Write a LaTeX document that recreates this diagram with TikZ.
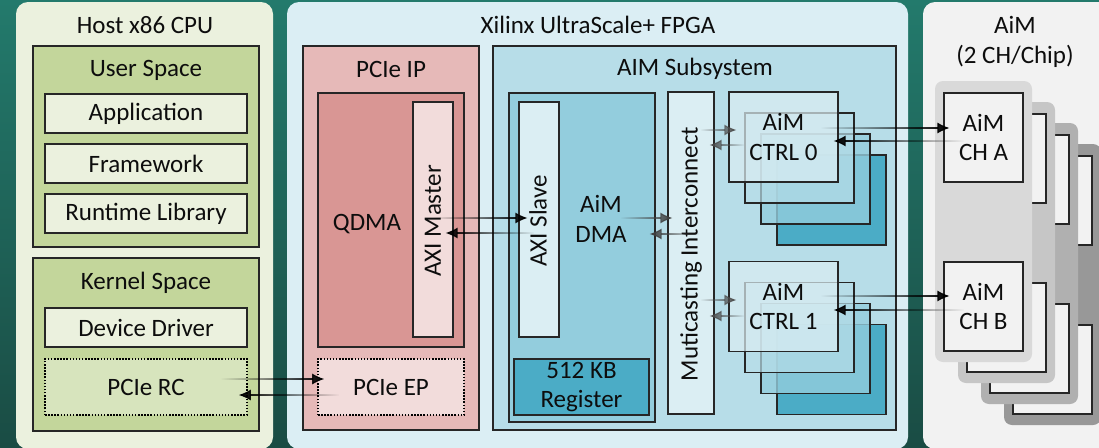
\documentclass[tikz,border=0pt]{standalone}
\usepackage{fontspec}
\setmainfont{Carlito}
\usetikzlibrary{arrows.meta, calc, fadings}

\definecolor{edge}{HTML}{262626}
\definecolor{ink}{HTML}{0D0D0D}
\definecolor{bgtop}{HTML}{237A6C}
\definecolor{bgbot}{HTML}{1A4C44}
\definecolor{hostbg}{HTML}{EBF1DE}
\definecolor{usergreen}{HTML}{C3D69B}
\definecolor{rcgreen}{HTML}{D7E4BD}
\definecolor{fpgabg}{HTML}{DBEEF4}
\definecolor{ipred}{HTML}{E6B9B8}
\definecolor{qdmared}{HTML}{D99694}
\definecolor{pinklight}{HTML}{F2DCDB}
\definecolor{subsys}{HTML}{B7DDE8}
\definecolor{dmablue}{HTML}{93CDDD}
\definecolor{paleblue}{HTML}{DBEEF3}
\definecolor{regblue}{HTML}{4BACC6}
\definecolor{aimbg}{HTML}{F2F2F2}
\definecolor{halo0}{HTML}{D9D9D9}
\definecolor{halo1}{HTML}{C6C6C6}
\definecolor{halo2}{HTML}{B0B0B0}
\definecolor{halo3}{HTML}{989898}

\tikzfading[name=fromleft, left color=transparent!100, middle color=transparent!0, right color=transparent!0]
\tikzfading[name=fromright, left color=transparent!0, middle color=transparent!0, right color=transparent!100]

\tikzset{every picture/.style={x=1pt, y=-1pt},
  every node/.style={font=\fontsize{25}{29.5}\selectfont, text=ink, align=center, inner sep=0pt},
  panel/.style={rounded corners=12pt},
  box/.style={draw=edge, line width=1.3pt},
  dotbox/.style={draw=black, line width=1.6pt, dash pattern=on 1.5pt off 1.6pt},
  link/.style={line width=1.1pt, -{Latex[length=12pt,width=11pt]}}}

\begin{document}
\begin{tikzpicture}
            \clip (0,0) rectangle (1099,447);
            \shade[top color=bgtop, bottom color=bgbot] (0,0) rectangle (1099,447);

            % panels
            \fill[panel, hostbg] (16,2) rectangle (273,449);
            \fill[panel, fpgabg] (287,2) rectangle (908,449);
            \fill[panel, aimbg] (923,2) rectangle (1115,449);

            % host side
            \node (host) at (145,25) {Host x86 CPU};
            \node[box, fill=usergreen, minimum width=226, minimum height=201] (user) at (146,146.5) {};
            \node (usertitle) at (146,70) {User Space};
            \foreach \name/\txt/\y in {app/Application/113.5, fw/Framework/163.5, rt/Runtime Library/213.5}
              \node[box, fill=hostbg, minimum width=202, minimum height=39] (\name) at (146,\y) {\txt};
            \node[box, fill=usergreen, minimum width=226, minimum height=173] (kernel) at (146,344.5) {};
            \node (kerneltitle) at (146,283) {Kernel Space};
            \node[box, fill=hostbg, minimum width=202, minimum height=39] (drv) at (146,327.5) {Device Driver};
            \node[dotbox, fill=rcgreen, minimum width=202, minimum height=56] (rc) at (146,387) {PCIe RC};

            % fpga
            \node (fpga) at (598,25) {Xilinx UltraScale+ FPGA};
            \node[box, fill=ipred, minimum width=176, minimum height=384] (ip) at (391,238) {};
            \node (iptitle) at (391,69) {PCIe IP};
            \node[box, fill=qdmared, minimum width=146, minimum height=254] (qdma) at (391,220) {};
            \node (qdmatxt) at (367,224) {QDMA};
            \node[box, fill=pinklight, minimum width=40, minimum height=235] (master) at (433,219.5) {};
            \node[rotate=90] (mastertxt) at (433,221) {AXI Master};
            \node[dotbox, fill=pinklight, minimum width=146, minimum height=56] (ep) at (391,387) {PCIe EP};

            \node[box, fill=subsys, minimum width=403, minimum height=384] (sub) at (694.5,238) {};
            \node (subtitle) at (695,69) {AIM Subsystem};
            \node[box, fill=dmablue, minimum width=146, minimum height=329] (dma) at (582,257.5) {};
            \node (dmatxt) at (601,219) {AiM\\DMA};
            \node[box, fill=paleblue, minimum width=40, minimum height=235] (slave) at (539,219.5) {};
            \node[rotate=90] (slavetxt) at (538,221) {AXI Slave};
            \node[box, fill=regblue, minimum width=135, minimum height=56] (reg) at (581.5,387) {512 KB\\Register};
            \node[box, fill=paleblue, minimum width=46, minimum height=322] (ic) at (691,253) {};
            \node[rotate=90] (ictxt) at (691,254) {Muticasting Interconnect};

            \foreach \k/\col/\op in {3/regblue/1, 2/dmablue/0.8, 1/subsys/0.7} {
              \node[box, fill=\col, fill opacity=\op, minimum width=109, minimum height=90] (ctrlA\k) at ({783.5+16*\k},{137+21*\k}) {};
              \node[box, fill=\col, fill opacity=\op, minimum width=109, minimum height=90] (ctrlB\k) at ({783.5+16*\k},{306.5+21*\k}) {};
            }
            \node[box, fill=paleblue, fill opacity=0.7, text opacity=1, minimum width=109, minimum height=90] (c0) at (783.5,137) {AiM\\CTRL 0};
            \node[box, fill=paleblue, fill opacity=0.7, text opacity=1, minimum width=109, minimum height=90] (c1) at (783.5,306.5) {AiM\\CTRL 1};

            % aim chips
            \node (aimtitle) at (1015,42) {AiM\\(2 CH/Chip)};
            \foreach \k/\col in {3/halo3, 2/halo2, 1/halo1} {
              \fill[\col, rounded corners=8pt] ({935+23*\k},{81+21*\k}) rectangle ({1032+23*\k},{362+21*\k});
              \node[box, fill=aimbg, minimum width=79, minimum height=89] (chA\k) at ({983.5+23*\k},{137.5+21*\k}) {};
              \node[box, fill=aimbg, minimum width=79, minimum height=89] (chB\k) at ({983.5+23*\k},{306.5+21*\k}) {};
            }
            \fill[halo0, rounded corners=8pt] (935,81) rectangle (1032,362);
            \node[box, fill=aimbg, minimum width=79, minimum height=89] (cha) at (983.5,137.5) {AiM\\CH A};
            \node[box, fill=aimbg, minimum width=79, minimum height=89] (chb) at (983.5,306.5) {AiM\\CH B};

            % links
            \coordinate (p1s) at ($(rc.east)+(-27,-8)$);
            \coordinate (p1e) at ($(ep.west)+(7,-8)$);
            \coordinate (p2s) at ($(ep.west)+(22,8)$);
            \coordinate (p2e) at ($(rc.east)+(-9,8)$);
            \coordinate (x1s) at ($(master.east)+(-20,-1.5)$);
            \coordinate (x1e) at ($(slave.west)+(9,-1.5)$);
            \coordinate (x2s) at ($(slave.west)+(16,13.5)$);
            \coordinate (x2e) at ($(master.east)+(-8,13.5)$);
            \coordinate (d1s) at ($(dma.east)+(-35,-39.5)$);
            \coordinate (d1e) at ($(ic.west)+(5,-35)$);
            \coordinate (d2s) at ($(ic.west)+(32,-19)$);
            \coordinate (d2e) at ($(dma.east)+(-6,-23.5)$);
            \coordinate (i1s) at ($(ic.east)+(-14,-123)$);
            \coordinate (i1e) at ($(c0.west)+(8,-7)$);
            \coordinate (i2s) at ($(c0.west)+(16,8)$);
            \coordinate (i2e) at ($(ic.east)+(-5,-108)$);
            \coordinate (i3s) at ($(ic.east)+(-14,47)$);
            \coordinate (i3e) at ($(c1.west)+(8,-6.5)$);
            \coordinate (i4s) at ($(c1.west)+(16,9.5)$);
            \coordinate (i4e) at ($(ic.east)+(-5,63)$);
            \coordinate (m1s) at ($(c0.east)+(-18,-9)$);
            \coordinate (m1e) at ($(cha.west)+(6,-9.5)$);
            \coordinate (m2s) at ($(cha.west)+(21,3.5)$);
            \coordinate (m2e) at ($(c0.east)+(-5,4)$);
            \coordinate (m3s) at ($(c1.east)+(-18,-10.5)$);
            \coordinate (m3e) at ($(chb.west)+(6,-10.5)$);
            \coordinate (m4s) at ($(chb.west)+(21,3.5)$);
            \coordinate (m4e) at ($(c1.east)+(-5,3.5)$);

            \foreach \s/\e/\f/\c in {p1s/p1e/fromleft/black, p2s/p2e/fromright/black, x1s/x1e/fromleft/black, x2s/x2e/fromright/black,
                d1s/d1e/fromleft/black!75, d2s/d2e/fromright/black!75, i1s/i1e/fromleft/black!70, i2s/i2e/fromright/black!70,
                i3s/i3e/fromleft/black!70, i4s/i4e/fromright/black!70, m1s/m1e/fromleft/black, m2s/m2e/fromright/black,
                m3s/m3e/fromleft/black, m4s/m4e/fromright/black}
              \draw[link, draw=\c, fill=\c, path fading=\f] ([yshift=8pt]\s) ([yshift=-8pt]\s) (\s) -- (\e);
        \end{tikzpicture}
\end{document}
